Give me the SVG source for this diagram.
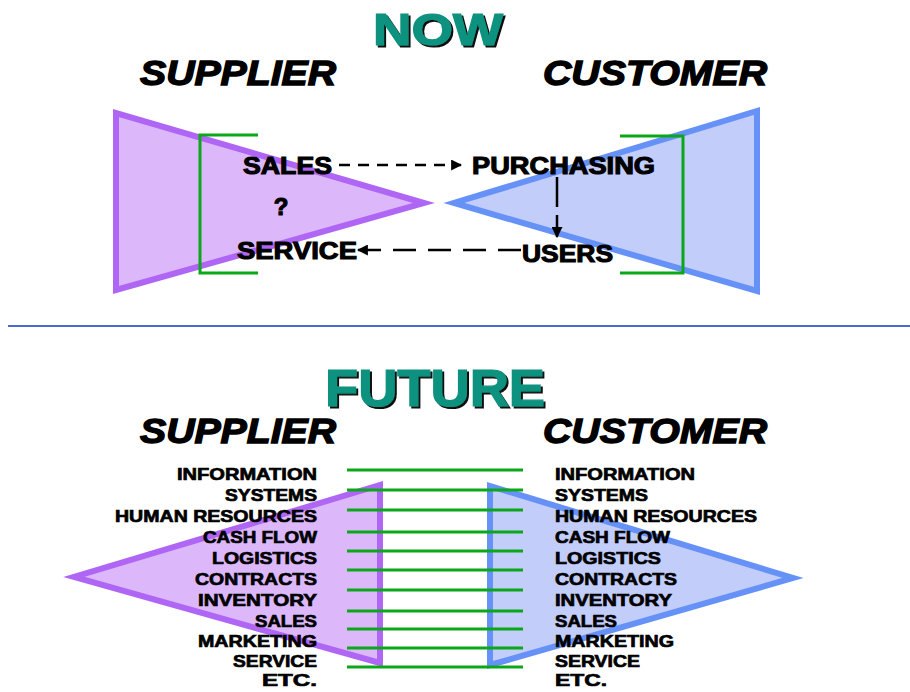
<svg xmlns="http://www.w3.org/2000/svg" width="910" height="692" viewBox="0 0 910 692">
<defs>
<style>
.title{font-family:"Liberation Sans",Arial,sans-serif;font-weight:bold;fill:#10927f;stroke:#10927f;stroke-width:1.2;filter:url(#shd);}
.head{font-family:"Liberation Sans",Arial,sans-serif;font-weight:bold;font-style:italic;font-size:35px;fill:#000;stroke:#000;stroke-width:1.4;}
.lbl{font-family:"Liberation Sans",Arial,sans-serif;font-weight:bold;font-size:24px;fill:#000;stroke:#000;stroke-width:1.1;}
.item{font-family:"Liberation Sans",Arial,sans-serif;font-weight:bold;font-size:17px;fill:#000;stroke:#000;stroke-width:0.7;}
.purple{fill:#dcb8fb;stroke:#b066f4;stroke-width:6;stroke-linejoin:miter;}
.blue{fill:#c2cdfa;stroke:#6692f8;stroke-width:6;stroke-linejoin:miter;}
.green{stroke:#0aa818;stroke-width:3;fill:none;}
.arr{stroke:#000;stroke-width:2.5;fill:none;}
</style>
<filter id="shd" x="-10%" y="-10%" width="130%" height="140%">
<feDropShadow dx="2" dy="2" stdDeviation="0.6" flood-color="#111" flood-opacity="1"/>
</filter>
<marker id="ah" viewBox="0 0 10 10" refX="9" refY="5" markerWidth="4.4" markerHeight="4.4" orient="auto" markerUnits="strokeWidth">
<path d="M0,0 L10,5 L0,10 z" fill="#000"/>
</marker>
</defs>
<rect width="910" height="692" fill="#fff"/>

<!-- NOW section -->
<g id="now-title">
<text class="title" x="373" y="45" font-size="44" textLength="130" lengthAdjust="spacingAndGlyphs">NOW</text>
</g>
<g id="now-supplier-head"><text class="head" x="140" y="85" textLength="196" lengthAdjust="spacingAndGlyphs">SUPPLIER</text></g>
<g id="now-customer-head"><text class="head" x="543" y="85" textLength="224" lengthAdjust="spacingAndGlyphs">CUSTOMER</text></g>

<g id="now-supplier">
<polygon class="purple" points="116,113 116,290 424,203"/>
<path class="green" d="M258,135 L200,135 L200,273 L258,273"/>
</g>
<g id="now-customer">
<polygon class="blue" points="757,111 757,291 454,203"/>
<path class="green" d="M620,136 L683,136 L683,273 L620,273"/>
</g>

<g id="node-sales"><text class="lbl" x="243" y="174" textLength="89" lengthAdjust="spacingAndGlyphs">SALES</text></g>
<g id="node-question"><text class="lbl" x="281" y="215" font-size="28" text-anchor="middle">?</text></g>
<g id="node-service"><text class="lbl" x="237" y="259" textLength="120" lengthAdjust="spacingAndGlyphs">SERVICE</text></g>
<g id="node-purchasing"><text class="lbl" x="472" y="174" textLength="183" lengthAdjust="spacingAndGlyphs">PURCHASING</text></g>
<g id="node-users"><text class="lbl" x="522" y="262" textLength="91" lengthAdjust="spacingAndGlyphs">USERS</text></g>

<g id="connectors">
<line class="arr" x1="339" y1="165" x2="461" y2="165" stroke-dasharray="11,8" marker-end="url(#ah)"/>
<line class="arr" x1="557" y1="177" x2="557" y2="237" stroke-dasharray="30,8" marker-end="url(#ah)"/>
<line class="arr" x1="521" y1="250" x2="358" y2="250" stroke-dasharray="23,12" marker-end="url(#ah)"/>
</g>

<line id="separator" x1="8" y1="326" x2="910" y2="326" stroke="#4a6ad0" stroke-width="2"/>

<!-- FUTURE section -->
<g id="future-title">
<text class="title" x="325" y="406" font-size="51" textLength="220" lengthAdjust="spacingAndGlyphs">FUTURE</text>
</g>
<g id="future-supplier-head"><text class="head" x="140" y="443" textLength="196" lengthAdjust="spacingAndGlyphs">SUPPLIER</text></g>
<g id="future-customer-head"><text class="head" x="543" y="443" textLength="224" lengthAdjust="spacingAndGlyphs">CUSTOMER</text></g>

<g id="future-supplier">
<polygon class="purple" points="380,485 380,663 74,577"/>
</g>
<g id="future-customer">
<polygon class="blue" points="490,486 490,665 793,578"/>
</g>

<g id="links" class="green">
<line x1="347" y1="470" x2="523" y2="470"/>
<line x1="347" y1="490" x2="523" y2="490"/>
<line x1="347" y1="510" x2="523" y2="510"/>
<line x1="347" y1="532" x2="523" y2="532"/>
<line x1="347" y1="551" x2="523" y2="551"/>
<line x1="347" y1="570" x2="523" y2="570"/>
<line x1="347" y1="590" x2="523" y2="590"/>
<line x1="347" y1="611" x2="523" y2="611"/>
<line x1="347" y1="629" x2="523" y2="629"/>
<line x1="347" y1="648" x2="523" y2="648"/>
<line x1="347" y1="667" x2="523" y2="667"/>
</g>

<g id="supplier-functions" text-anchor="end">
<text class="item" x="317" y="480" textLength="140" lengthAdjust="spacingAndGlyphs">INFORMATION</text>
<text class="item" x="317" y="501" textLength="92" lengthAdjust="spacingAndGlyphs">SYSTEMS</text>
<text class="item" x="317" y="522" textLength="202" lengthAdjust="spacingAndGlyphs">HUMAN RESOURCES</text>
<text class="item" x="317" y="543" textLength="114" lengthAdjust="spacingAndGlyphs">CASH FLOW</text>
<text class="item" x="317" y="564" textLength="105" lengthAdjust="spacingAndGlyphs">LOGISTICS</text>
<text class="item" x="317" y="585" textLength="122" lengthAdjust="spacingAndGlyphs">CONTRACTS</text>
<text class="item" x="317" y="606" textLength="119" lengthAdjust="spacingAndGlyphs">INVENTORY</text>
<text class="item" x="317" y="627" textLength="62" lengthAdjust="spacingAndGlyphs">SALES</text>
<text class="item" x="317" y="647" textLength="119" lengthAdjust="spacingAndGlyphs">MARKETING</text>
<text class="item" x="317" y="667" textLength="84" lengthAdjust="spacingAndGlyphs">SERVICE</text>
<text class="item" x="317" y="686" textLength="55" lengthAdjust="spacingAndGlyphs">ETC.</text>
</g>

<g id="customer-functions">
<text class="item" x="555" y="480" textLength="140" lengthAdjust="spacingAndGlyphs">INFORMATION</text>
<text class="item" x="555" y="501" textLength="93" lengthAdjust="spacingAndGlyphs">SYSTEMS</text>
<text class="item" x="555" y="522" textLength="202" lengthAdjust="spacingAndGlyphs">HUMAN RESOURCES</text>
<text class="item" x="555" y="543" textLength="115" lengthAdjust="spacingAndGlyphs">CASH FLOW</text>
<text class="item" x="555" y="564" textLength="106" lengthAdjust="spacingAndGlyphs">LOGISTICS</text>
<text class="item" x="555" y="585" textLength="122" lengthAdjust="spacingAndGlyphs">CONTRACTS</text>
<text class="item" x="555" y="606" textLength="117" lengthAdjust="spacingAndGlyphs">INVENTORY</text>
<text class="item" x="555" y="627" textLength="62" lengthAdjust="spacingAndGlyphs">SALES</text>
<text class="item" x="555" y="647" textLength="119" lengthAdjust="spacingAndGlyphs">MARKETING</text>
<text class="item" x="555" y="667" textLength="85" lengthAdjust="spacingAndGlyphs">SERVICE</text>
<text class="item" x="555" y="686" textLength="52" lengthAdjust="spacingAndGlyphs">ETC.</text>
</g>
</svg>
